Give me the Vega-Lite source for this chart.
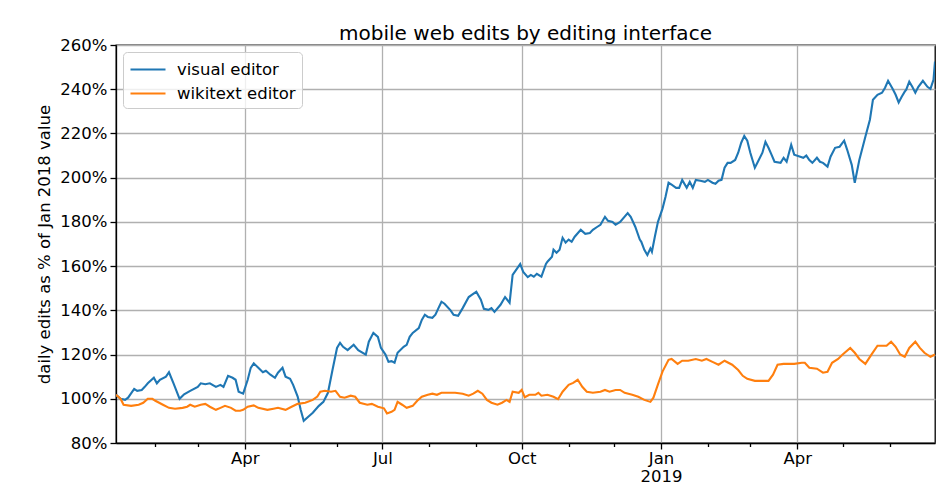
{
"$schema": "https://vega.github.io/schema/vega-lite/v6.json",
"width": 819,
"height": 398,
"autosize": {"type": "none"},
"padding": {"left": 116, "top": 45, "right": 16, "bottom": 58},
"background": "white",
"config": {"font": "DejaVu Sans", "view": {"stroke": "black", "strokeWidth": 1.3}},
"title": {"text": "mobile web edits by editing interface", "fontSize": 20, "fontWeight": "normal", "font": "DejaVu Sans", "color": "black", "offset": -7, "anchor": "middle"},
"data": {"values": [
{"date":"2018-01-06","editor":"visual editor","value":101.8},{"date":"2018-01-09","editor":"visual editor","value":100.0},{"date":"2018-01-12","editor":"visual editor","value":99.5},{"date":"2018-01-14","editor":"visual editor","value":100.5},{"date":"2018-01-18","editor":"visual editor","value":104.5},{"date":"2018-01-20","editor":"visual editor","value":103.6},{"date":"2018-01-23","editor":"visual editor","value":104.0},{"date":"2018-01-25","editor":"visual editor","value":105.4},{"date":"2018-01-27","editor":"visual editor","value":107.0},{"date":"2018-01-31","editor":"visual editor","value":109.5},{"date":"2018-02-02","editor":"visual editor","value":107.0},{"date":"2018-02-04","editor":"visual editor","value":108.6},{"date":"2018-02-08","editor":"visual editor","value":110.0},{"date":"2018-02-10","editor":"visual editor","value":112.0},{"date":"2018-02-13","editor":"visual editor","value":107.0},{"date":"2018-02-17","editor":"visual editor","value":100.0},{"date":"2018-02-20","editor":"visual editor","value":102.0},{"date":"2018-02-24","editor":"visual editor","value":103.6},{"date":"2018-03-01","editor":"visual editor","value":105.4},{"date":"2018-03-03","editor":"visual editor","value":107.0},{"date":"2018-03-06","editor":"visual editor","value":106.6},{"date":"2018-03-09","editor":"visual editor","value":107.0},{"date":"2018-03-13","editor":"visual editor","value":105.4},{"date":"2018-03-16","editor":"visual editor","value":106.3},{"date":"2018-03-18","editor":"visual editor","value":105.4},{"date":"2018-03-21","editor":"visual editor","value":110.4},{"date":"2018-03-24","editor":"visual editor","value":109.5},{"date":"2018-03-26","editor":"visual editor","value":108.6},{"date":"2018-03-28","editor":"visual editor","value":103.2},{"date":"2018-03-31","editor":"visual editor","value":102.3},{"date":"2018-04-03","editor":"visual editor","value":108.6},{"date":"2018-04-05","editor":"visual editor","value":114.0},{"date":"2018-04-07","editor":"visual editor","value":116.0},{"date":"2018-04-10","editor":"visual editor","value":114.0},{"date":"2018-04-13","editor":"visual editor","value":112.0},{"date":"2018-04-15","editor":"visual editor","value":112.7},{"date":"2018-04-18","editor":"visual editor","value":110.9},{"date":"2018-04-21","editor":"visual editor","value":109.5},{"date":"2018-04-23","editor":"visual editor","value":111.8},{"date":"2018-04-26","editor":"visual editor","value":114.0},{"date":"2018-04-28","editor":"visual editor","value":110.0},{"date":"2018-05-01","editor":"visual editor","value":109.0},{"date":"2018-05-03","editor":"visual editor","value":106.3},{"date":"2018-05-06","editor":"visual editor","value":101.0},{"date":"2018-05-08","editor":"visual editor","value":95.0},{"date":"2018-05-10","editor":"visual editor","value":90.0},{"date":"2018-05-13","editor":"visual editor","value":91.9},{"date":"2018-05-16","editor":"visual editor","value":93.7},{"date":"2018-05-20","editor":"visual editor","value":96.8},{"date":"2018-05-23","editor":"visual editor","value":98.6},{"date":"2018-05-26","editor":"visual editor","value":102.7},{"date":"2018-05-29","editor":"visual editor","value":113.0},{"date":"2018-06-01","editor":"visual editor","value":123.0},{"date":"2018-06-03","editor":"visual editor","value":125.3},{"date":"2018-06-05","editor":"visual editor","value":123.5},{"date":"2018-06-08","editor":"visual editor","value":122.0},{"date":"2018-06-12","editor":"visual editor","value":124.4},{"date":"2018-06-15","editor":"visual editor","value":122.0},{"date":"2018-06-20","editor":"visual editor","value":120.0},{"date":"2018-06-22","editor":"visual editor","value":125.8},{"date":"2018-06-25","editor":"visual editor","value":129.8},{"date":"2018-06-28","editor":"visual editor","value":128.0},{"date":"2018-06-30","editor":"visual editor","value":123.0},{"date":"2018-07-03","editor":"visual editor","value":120.0},{"date":"2018-07-05","editor":"visual editor","value":116.7},{"date":"2018-07-07","editor":"visual editor","value":117.0},{"date":"2018-07-09","editor":"visual editor","value":116.3},{"date":"2018-07-11","editor":"visual editor","value":120.8},{"date":"2018-07-15","editor":"visual editor","value":123.5},{"date":"2018-07-17","editor":"visual editor","value":124.4},{"date":"2018-07-19","editor":"visual editor","value":128.0},{"date":"2018-07-21","editor":"visual editor","value":129.8},{"date":"2018-07-25","editor":"visual editor","value":132.0},{"date":"2018-07-27","editor":"visual editor","value":135.7},{"date":"2018-07-29","editor":"visual editor","value":138.0},{"date":"2018-07-31","editor":"visual editor","value":137.0},{"date":"2018-08-03","editor":"visual editor","value":136.6},{"date":"2018-08-05","editor":"visual editor","value":138.0},{"date":"2018-08-07","editor":"visual editor","value":141.0},{"date":"2018-08-09","editor":"visual editor","value":143.9},{"date":"2018-08-11","editor":"visual editor","value":143.0},{"date":"2018-08-15","editor":"visual editor","value":140.0},{"date":"2018-08-17","editor":"visual editor","value":138.0},{"date":"2018-08-20","editor":"visual editor","value":137.5},{"date":"2018-08-23","editor":"visual editor","value":141.0},{"date":"2018-08-27","editor":"visual editor","value":146.0},{"date":"2018-08-29","editor":"visual editor","value":147.0},{"date":"2018-09-01","editor":"visual editor","value":148.4},{"date":"2018-09-04","editor":"visual editor","value":144.8},{"date":"2018-09-06","editor":"visual editor","value":140.7},{"date":"2018-09-09","editor":"visual editor","value":140.2},{"date":"2018-09-11","editor":"visual editor","value":141.0},{"date":"2018-09-13","editor":"visual editor","value":139.3},{"date":"2018-09-17","editor":"visual editor","value":142.5},{"date":"2018-09-20","editor":"visual editor","value":146.0},{"date":"2018-09-23","editor":"visual editor","value":143.4},{"date":"2018-09-25","editor":"visual editor","value":156.0},{"date":"2018-09-28","editor":"visual editor","value":159.0},{"date":"2018-09-30","editor":"visual editor","value":161.0},{"date":"2018-10-02","editor":"visual editor","value":157.4},{"date":"2018-10-05","editor":"visual editor","value":155.0},{"date":"2018-10-07","editor":"visual editor","value":156.0},{"date":"2018-10-09","editor":"visual editor","value":155.2},{"date":"2018-10-11","editor":"visual editor","value":156.5},{"date":"2018-10-14","editor":"visual editor","value":155.2},{"date":"2018-10-17","editor":"visual editor","value":161.0},{"date":"2018-10-18","editor":"visual editor","value":162.0},{"date":"2018-10-21","editor":"visual editor","value":164.2},{"date":"2018-10-22","editor":"visual editor","value":167.4},{"date":"2018-10-24","editor":"visual editor","value":166.0},{"date":"2018-10-26","editor":"visual editor","value":167.4},{"date":"2018-10-28","editor":"visual editor","value":172.8},{"date":"2018-10-30","editor":"visual editor","value":170.6},{"date":"2018-11-01","editor":"visual editor","value":172.0},{"date":"2018-11-03","editor":"visual editor","value":171.0},{"date":"2018-11-05","editor":"visual editor","value":173.3},{"date":"2018-11-09","editor":"visual editor","value":176.4},{"date":"2018-11-12","editor":"visual editor","value":174.6},{"date":"2018-11-15","editor":"visual editor","value":175.0},{"date":"2018-11-17","editor":"visual editor","value":176.4},{"date":"2018-11-20","editor":"visual editor","value":177.8},{"date":"2018-11-22","editor":"visual editor","value":178.7},{"date":"2018-11-25","editor":"visual editor","value":182.3},{"date":"2018-11-27","editor":"visual editor","value":180.5},{"date":"2018-11-30","editor":"visual editor","value":180.0},{"date":"2018-12-02","editor":"visual editor","value":178.7},{"date":"2018-12-05","editor":"visual editor","value":180.0},{"date":"2018-12-10","editor":"visual editor","value":184.0},{"date":"2018-12-12","editor":"visual editor","value":182.3},{"date":"2018-12-15","editor":"visual editor","value":177.8},{"date":"2018-12-18","editor":"visual editor","value":172.0},{"date":"2018-12-19","editor":"visual editor","value":171.0},{"date":"2018-12-21","editor":"visual editor","value":167.4},{"date":"2018-12-23","editor":"visual editor","value":165.0},{"date":"2018-12-25","editor":"visual editor","value":168.0},{"date":"2018-12-26","editor":"visual editor","value":166.5},{"date":"2018-12-28","editor":"visual editor","value":173.5},{"date":"2018-12-30","editor":"visual editor","value":180.0},{"date":"2019-01-02","editor":"visual editor","value":186.0},{"date":"2019-01-04","editor":"visual editor","value":191.4},{"date":"2019-01-06","editor":"visual editor","value":197.7},{"date":"2019-01-08","editor":"visual editor","value":196.8},{"date":"2019-01-11","editor":"visual editor","value":195.4},{"date":"2019-01-13","editor":"visual editor","value":195.4},{"date":"2019-01-15","editor":"visual editor","value":199.0},{"date":"2019-01-18","editor":"visual editor","value":195.4},{"date":"2019-01-20","editor":"visual editor","value":198.1},{"date":"2019-01-22","editor":"visual editor","value":195.4},{"date":"2019-01-24","editor":"visual editor","value":199.0},{"date":"2019-01-27","editor":"visual editor","value":198.6},{"date":"2019-01-30","editor":"visual editor","value":198.1},{"date":"2019-02-01","editor":"visual editor","value":199.0},{"date":"2019-02-04","editor":"visual editor","value":197.7},{"date":"2019-02-06","editor":"visual editor","value":197.2},{"date":"2019-02-08","editor":"visual editor","value":198.6},{"date":"2019-02-10","editor":"visual editor","value":199.0},{"date":"2019-02-12","editor":"visual editor","value":204.5},{"date":"2019-02-14","editor":"visual editor","value":206.7},{"date":"2019-02-16","editor":"visual editor","value":206.7},{"date":"2019-02-19","editor":"visual editor","value":208.0},{"date":"2019-02-21","editor":"visual editor","value":211.3},{"date":"2019-02-23","editor":"visual editor","value":215.8},{"date":"2019-02-25","editor":"visual editor","value":218.9},{"date":"2019-02-27","editor":"visual editor","value":216.7},{"date":"2019-03-01","editor":"visual editor","value":211.3},{"date":"2019-03-04","editor":"visual editor","value":204.5},{"date":"2019-03-06","editor":"visual editor","value":207.2},{"date":"2019-03-09","editor":"visual editor","value":211.3},{"date":"2019-03-11","editor":"visual editor","value":216.2},{"date":"2019-03-13","editor":"visual editor","value":213.5},{"date":"2019-03-15","editor":"visual editor","value":210.4},{"date":"2019-03-17","editor":"visual editor","value":207.2},{"date":"2019-03-21","editor":"visual editor","value":206.7},{"date":"2019-03-23","editor":"visual editor","value":209.0},{"date":"2019-03-25","editor":"visual editor","value":207.2},{"date":"2019-03-28","editor":"visual editor","value":214.9},{"date":"2019-03-30","editor":"visual editor","value":210.4},{"date":"2019-04-03","editor":"visual editor","value":209.5},{"date":"2019-04-05","editor":"visual editor","value":209.0},{"date":"2019-04-07","editor":"visual editor","value":210.0},{"date":"2019-04-09","editor":"visual editor","value":208.0},{"date":"2019-04-11","editor":"visual editor","value":206.7},{"date":"2019-04-14","editor":"visual editor","value":209.0},{"date":"2019-04-16","editor":"visual editor","value":207.2},{"date":"2019-04-18","editor":"visual editor","value":206.7},{"date":"2019-04-21","editor":"visual editor","value":205.0},{"date":"2019-04-23","editor":"visual editor","value":209.5},{"date":"2019-04-26","editor":"visual editor","value":213.5},{"date":"2019-04-29","editor":"visual editor","value":214.0},{"date":"2019-05-01","editor":"visual editor","value":215.8},{"date":"2019-05-02","editor":"visual editor","value":216.7},{"date":"2019-05-04","editor":"visual editor","value":212.6},{"date":"2019-05-07","editor":"visual editor","value":205.8},{"date":"2019-05-09","editor":"visual editor","value":197.7},{"date":"2019-05-12","editor":"visual editor","value":208.0},{"date":"2019-05-16","editor":"visual editor","value":218.5},{"date":"2019-05-19","editor":"visual editor","value":226.2},{"date":"2019-05-21","editor":"visual editor","value":235.2},{"date":"2019-05-24","editor":"visual editor","value":237.5},{"date":"2019-05-27","editor":"visual editor","value":238.4},{"date":"2019-05-29","editor":"visual editor","value":240.7},{"date":"2019-05-31","editor":"visual editor","value":243.8},{"date":"2019-06-03","editor":"visual editor","value":240.2},{"date":"2019-06-05","editor":"visual editor","value":237.5},{"date":"2019-06-07","editor":"visual editor","value":234.0},{"date":"2019-06-09","editor":"visual editor","value":236.6},{"date":"2019-06-11","editor":"visual editor","value":238.9},{"date":"2019-06-12","editor":"visual editor","value":239.8},{"date":"2019-06-14","editor":"visual editor","value":243.4},{"date":"2019-06-16","editor":"visual editor","value":241.1},{"date":"2019-06-18","editor":"visual editor","value":238.4},{"date":"2019-06-20","editor":"visual editor","value":241.1},{"date":"2019-06-23","editor":"visual editor","value":243.8},{"date":"2019-06-26","editor":"visual editor","value":241.1},{"date":"2019-06-28","editor":"visual editor","value":240.2},{"date":"2019-06-30","editor":"visual editor","value":244.3},{"date":"2019-07-01","editor":"visual editor","value":252.5},
{"date":"2018-01-06","editor":"wikitext editor","value":101.8},{"date":"2018-01-09","editor":"wikitext editor","value":100.0},{"date":"2018-01-11","editor":"wikitext editor","value":97.3},{"date":"2018-01-16","editor":"wikitext editor","value":96.8},{"date":"2018-01-21","editor":"wikitext editor","value":97.3},{"date":"2018-01-24","editor":"wikitext editor","value":98.2},{"date":"2018-01-27","editor":"wikitext editor","value":100.0},{"date":"2018-01-30","editor":"wikitext editor","value":100.0},{"date":"2018-02-01","editor":"wikitext editor","value":99.1},{"date":"2018-02-06","editor":"wikitext editor","value":97.3},{"date":"2018-02-10","editor":"wikitext editor","value":95.9},{"date":"2018-02-14","editor":"wikitext editor","value":95.5},{"date":"2018-02-19","editor":"wikitext editor","value":95.9},{"date":"2018-02-22","editor":"wikitext editor","value":96.4},{"date":"2018-02-24","editor":"wikitext editor","value":97.3},{"date":"2018-02-27","editor":"wikitext editor","value":96.4},{"date":"2018-03-03","editor":"wikitext editor","value":97.3},{"date":"2018-03-06","editor":"wikitext editor","value":97.7},{"date":"2018-03-09","editor":"wikitext editor","value":96.4},{"date":"2018-03-13","editor":"wikitext editor","value":95.0},{"date":"2018-03-16","editor":"wikitext editor","value":95.9},{"date":"2018-03-19","editor":"wikitext editor","value":96.8},{"date":"2018-03-23","editor":"wikitext editor","value":95.9},{"date":"2018-03-26","editor":"wikitext editor","value":94.6},{"date":"2018-03-29","editor":"wikitext editor","value":94.6},{"date":"2018-03-31","editor":"wikitext editor","value":95.0},{"date":"2018-04-03","editor":"wikitext editor","value":96.4},{"date":"2018-04-07","editor":"wikitext editor","value":97.0},{"date":"2018-04-10","editor":"wikitext editor","value":95.9},{"date":"2018-04-16","editor":"wikitext editor","value":95.0},{"date":"2018-04-20","editor":"wikitext editor","value":95.5},{"date":"2018-04-23","editor":"wikitext editor","value":95.9},{"date":"2018-04-28","editor":"wikitext editor","value":95.0},{"date":"2018-05-02","editor":"wikitext editor","value":96.4},{"date":"2018-05-06","editor":"wikitext editor","value":97.7},{"date":"2018-05-11","editor":"wikitext editor","value":98.2},{"date":"2018-05-16","editor":"wikitext editor","value":99.5},{"date":"2018-05-19","editor":"wikitext editor","value":101.0},{"date":"2018-05-21","editor":"wikitext editor","value":103.2},{"date":"2018-05-24","editor":"wikitext editor","value":103.6},{"date":"2018-05-28","editor":"wikitext editor","value":103.2},{"date":"2018-05-31","editor":"wikitext editor","value":103.6},{"date":"2018-06-03","editor":"wikitext editor","value":100.9},{"date":"2018-06-06","editor":"wikitext editor","value":100.5},{"date":"2018-06-10","editor":"wikitext editor","value":101.4},{"date":"2018-06-13","editor":"wikitext editor","value":100.9},{"date":"2018-06-16","editor":"wikitext editor","value":98.2},{"date":"2018-06-21","editor":"wikitext editor","value":97.3},{"date":"2018-06-24","editor":"wikitext editor","value":97.7},{"date":"2018-06-28","editor":"wikitext editor","value":96.4},{"date":"2018-07-02","editor":"wikitext editor","value":95.7},{"date":"2018-07-04","editor":"wikitext editor","value":93.4},{"date":"2018-07-07","editor":"wikitext editor","value":94.1},{"date":"2018-07-09","editor":"wikitext editor","value":95.0},{"date":"2018-07-11","editor":"wikitext editor","value":98.6},{"date":"2018-07-14","editor":"wikitext editor","value":97.3},{"date":"2018-07-17","editor":"wikitext editor","value":95.9},{"date":"2018-07-21","editor":"wikitext editor","value":96.8},{"date":"2018-07-24","editor":"wikitext editor","value":99.1},{"date":"2018-07-27","editor":"wikitext editor","value":100.9},{"date":"2018-07-31","editor":"wikitext editor","value":101.8},{"date":"2018-08-03","editor":"wikitext editor","value":102.3},{"date":"2018-08-06","editor":"wikitext editor","value":101.8},{"date":"2018-08-09","editor":"wikitext editor","value":102.7},{"date":"2018-08-13","editor":"wikitext editor","value":102.7},{"date":"2018-08-18","editor":"wikitext editor","value":102.7},{"date":"2018-08-23","editor":"wikitext editor","value":102.3},{"date":"2018-08-27","editor":"wikitext editor","value":101.4},{"date":"2018-08-30","editor":"wikitext editor","value":102.3},{"date":"2018-09-02","editor":"wikitext editor","value":103.6},{"date":"2018-09-05","editor":"wikitext editor","value":102.3},{"date":"2018-09-08","editor":"wikitext editor","value":99.5},{"date":"2018-09-11","editor":"wikitext editor","value":98.2},{"date":"2018-09-15","editor":"wikitext editor","value":97.3},{"date":"2018-09-18","editor":"wikitext editor","value":98.2},{"date":"2018-09-21","editor":"wikitext editor","value":99.5},{"date":"2018-09-23","editor":"wikitext editor","value":98.6},{"date":"2018-09-25","editor":"wikitext editor","value":103.2},{"date":"2018-09-29","editor":"wikitext editor","value":102.7},{"date":"2018-10-01","editor":"wikitext editor","value":104.0},{"date":"2018-10-03","editor":"wikitext editor","value":100.7},{"date":"2018-10-06","editor":"wikitext editor","value":101.8},{"date":"2018-10-10","editor":"wikitext editor","value":101.8},{"date":"2018-10-12","editor":"wikitext editor","value":102.7},{"date":"2018-10-14","editor":"wikitext editor","value":101.4},{"date":"2018-10-18","editor":"wikitext editor","value":101.8},{"date":"2018-10-22","editor":"wikitext editor","value":100.9},{"date":"2018-10-25","editor":"wikitext editor","value":99.8},{"date":"2018-10-28","editor":"wikitext editor","value":103.2},{"date":"2018-11-01","editor":"wikitext editor","value":106.3},{"date":"2018-11-04","editor":"wikitext editor","value":107.2},{"date":"2018-11-07","editor":"wikitext editor","value":108.6},{"date":"2018-11-10","editor":"wikitext editor","value":105.4},{"date":"2018-11-13","editor":"wikitext editor","value":103.2},{"date":"2018-11-17","editor":"wikitext editor","value":102.7},{"date":"2018-11-22","editor":"wikitext editor","value":103.2},{"date":"2018-11-25","editor":"wikitext editor","value":104.0},{"date":"2018-11-28","editor":"wikitext editor","value":103.2},{"date":"2018-12-02","editor":"wikitext editor","value":104.0},{"date":"2018-12-05","editor":"wikitext editor","value":104.0},{"date":"2018-12-08","editor":"wikitext editor","value":102.7},{"date":"2018-12-13","editor":"wikitext editor","value":101.8},{"date":"2018-12-17","editor":"wikitext editor","value":100.9},{"date":"2018-12-21","editor":"wikitext editor","value":99.5},{"date":"2018-12-25","editor":"wikitext editor","value":98.6},{"date":"2018-12-27","editor":"wikitext editor","value":100.5},{"date":"2018-12-30","editor":"wikitext editor","value":106.5},{"date":"2019-01-02","editor":"wikitext editor","value":112.3},{"date":"2019-01-06","editor":"wikitext editor","value":117.6},{"date":"2019-01-08","editor":"wikitext editor","value":118.0},{"date":"2019-01-12","editor":"wikitext editor","value":115.8},{"date":"2019-01-15","editor":"wikitext editor","value":117.2},{"date":"2019-01-19","editor":"wikitext editor","value":117.2},{"date":"2019-01-24","editor":"wikitext editor","value":118.0},{"date":"2019-01-28","editor":"wikitext editor","value":117.2},{"date":"2019-01-31","editor":"wikitext editor","value":118.0},{"date":"2019-02-04","editor":"wikitext editor","value":116.7},{"date":"2019-02-08","editor":"wikitext editor","value":115.4},{"date":"2019-02-12","editor":"wikitext editor","value":117.2},{"date":"2019-02-17","editor":"wikitext editor","value":115.4},{"date":"2019-02-21","editor":"wikitext editor","value":113.0},{"date":"2019-02-24","editor":"wikitext editor","value":110.4},{"date":"2019-02-27","editor":"wikitext editor","value":109.0},{"date":"2019-03-04","editor":"wikitext editor","value":108.1},{"date":"2019-03-09","editor":"wikitext editor","value":108.1},{"date":"2019-03-13","editor":"wikitext editor","value":108.1},{"date":"2019-03-16","editor":"wikitext editor","value":110.9},{"date":"2019-03-19","editor":"wikitext editor","value":115.4},{"date":"2019-03-23","editor":"wikitext editor","value":115.8},{"date":"2019-03-26","editor":"wikitext editor","value":115.8},{"date":"2019-03-30","editor":"wikitext editor","value":115.8},{"date":"2019-04-04","editor":"wikitext editor","value":116.3},{"date":"2019-04-06","editor":"wikitext editor","value":116.3},{"date":"2019-04-09","editor":"wikitext editor","value":114.0},{"date":"2019-04-14","editor":"wikitext editor","value":113.6},{"date":"2019-04-18","editor":"wikitext editor","value":111.8},{"date":"2019-04-21","editor":"wikitext editor","value":112.2},{"date":"2019-04-24","editor":"wikitext editor","value":116.3},{"date":"2019-04-28","editor":"wikitext editor","value":118.0},{"date":"2019-05-01","editor":"wikitext editor","value":120.0},{"date":"2019-05-06","editor":"wikitext editor","value":123.0},{"date":"2019-05-09","editor":"wikitext editor","value":120.8},{"date":"2019-05-12","editor":"wikitext editor","value":118.0},{"date":"2019-05-16","editor":"wikitext editor","value":115.8},{"date":"2019-05-20","editor":"wikitext editor","value":120.0},{"date":"2019-05-24","editor":"wikitext editor","value":124.0},{"date":"2019-05-27","editor":"wikitext editor","value":124.0},{"date":"2019-05-30","editor":"wikitext editor","value":124.0},{"date":"2019-06-02","editor":"wikitext editor","value":125.8},{"date":"2019-06-05","editor":"wikitext editor","value":123.5},{"date":"2019-06-08","editor":"wikitext editor","value":120.0},{"date":"2019-06-11","editor":"wikitext editor","value":119.0},{"date":"2019-06-14","editor":"wikitext editor","value":123.0},{"date":"2019-06-18","editor":"wikitext editor","value":125.8},{"date":"2019-06-21","editor":"wikitext editor","value":123.0},{"date":"2019-06-24","editor":"wikitext editor","value":120.8},{"date":"2019-06-28","editor":"wikitext editor","value":119.0},{"date":"2019-07-01","editor":"wikitext editor","value":120.0}
]},
"mark": {"type": "line", "strokeWidth": 2.1, "clip": true},
"encoding": {
"x": {
"field": "date", "type": "temporal", "title": null,
"scale": {"type": "utc", "domain": [{"year": 2018, "month": 1, "date": 6, "utc": true}, {"year": 2019, "month": 7, "date": 1, "utc": true}]},
"axis": {
"values": [
{"year": 2018, "month": 2, "date": 1, "utc": true},{"year": 2018, "month": 3, "date": 1, "utc": true},{"year": 2018, "month": 4, "date": 1, "utc": true},{"year": 2018, "month": 5, "date": 1, "utc": true},{"year": 2018, "month": 6, "date": 1, "utc": true},{"year": 2018, "month": 7, "date": 1, "utc": true},{"year": 2018, "month": 8, "date": 1, "utc": true},{"year": 2018, "month": 9, "date": 1, "utc": true},{"year": 2018, "month": 10, "date": 1, "utc": true},{"year": 2018, "month": 11, "date": 1, "utc": true},{"year": 2018, "month": 12, "date": 1, "utc": true},{"year": 2019, "month": 1, "date": 1, "utc": true},{"year": 2019, "month": 2, "date": 1, "utc": true},{"year": 2019, "month": 3, "date": 1, "utc": true},{"year": 2019, "month": 4, "date": 1, "utc": true},{"year": 2019, "month": 5, "date": 1, "utc": true},{"year": 2019, "month": 6, "date": 1, "utc": true}
],
"labelExpr": "utcmonth(datum.value) % 3 != 0 ? '' : (utcmonth(datum.value) == 0 ? ['Jan', utcFormat(datum.value, '%Y')] : utcFormat(datum.value, '%b'))",
"tickSize": {"condition": {"test": "utcmonth(datum.value) % 3 == 0", "value": 6}, "value": 3.5},
"gridOpacity": {"condition": {"test": "utcmonth(datum.value) % 3 == 0", "value": 1}, "value": 0},
"grid": true, "gridColor": "#b0b0b0", "gridWidth": 1.3,
"domainColor": "black", "domainWidth": 1.3, "tickColor": "black", "tickWidth": 1.3,
"labelFontSize": 16.5, "labelColor": "black", "labelPadding": 1, "labelLineHeight": 18,
"labelFlush": false, "labelOverlap": false
}
},
"y": {
"field": "value", "type": "quantitative",
"scale": {"domain": [80, 260], "nice": false, "zero": false},
"axis": {
"values": [80, 100, 120, 140, 160, 180, 200, 220, 240, 260],
"labelExpr": "datum.value + '%'",
"title": "daily edits as % of Jan 2018 value",
"titleFontSize": 16.5, "titleFontWeight": "normal", "titleColor": "black", "titlePadding": 7,
"labelFontSize": 16.5, "labelColor": "black", "labelPadding": 3,
"tickSize": 6, "tickColor": "black", "tickWidth": 1.3,
"domainColor": "black", "domainWidth": 1.3,
"grid": true, "gridColor": "#b0b0b0", "gridWidth": 1.3
}
},
"color": {
"field": "editor", "type": "nominal",
"scale": {"domain": ["visual editor", "wikitext editor"], "range": ["#1f77b4", "#ff7f0e"]},
"legend": {
"title": null, "orient": "top-left", "offset": 7, "padding": 6,
"fillColor": "rgba(255,255,255,0.8)", "strokeColor": "#cccccc", "cornerRadius": 4,
"labelFontSize": 16.5, "labelColor": "black", "labelOffset": 25,
"symbolType": "M-1,0L2.5,0", "symbolSize": 400, "symbolStrokeWidth": 2.1, "rowPadding": 4
}
}
}
}
